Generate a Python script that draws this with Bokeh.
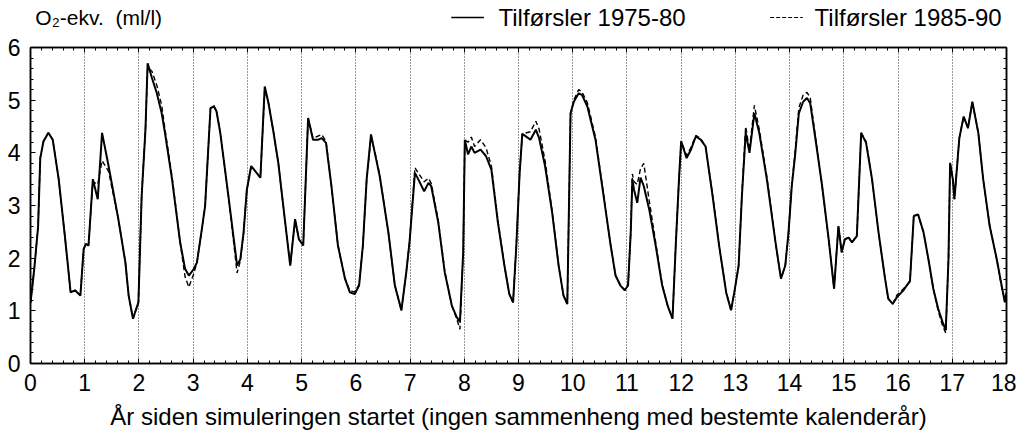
from bokeh.plotting import figure
from bokeh.models import FixedTicker, LinearAxis, Label
from bokeh.layouts import column
from bokeh.embed import file_html
from bokeh.resources import INLINE

# Years since the simulation started
t = [0.0, 0.07, 0.14, 0.18, 0.24, 0.33, 0.41, 0.52, 0.64, 0.74, 0.82, 0.92, 0.98,
     1.02, 1.07, 1.15, 1.24, 1.32, 1.44, 1.62, 1.75, 1.81, 1.89, 1.99,
     2.05, 2.12, 2.16, 2.24, 2.33, 2.42, 2.48, 2.61, 2.76, 2.85, 2.92,
     3.01, 3.07, 3.16, 3.22, 3.32, 3.38, 3.43, 3.5, 3.65, 3.81, 3.87, 3.93, 3.99,
     4.07, 4.24, 4.32, 4.39, 4.48, 4.57, 4.69, 4.79, 4.88, 4.95,
     5.03, 5.12, 5.21, 5.31, 5.37, 5.45, 5.55, 5.67, 5.8, 5.89, 5.98,
     6.06, 6.13, 6.2, 6.28, 6.35, 6.44, 6.6, 6.72, 6.84, 6.93, 6.99,
     7.09, 7.15, 7.26, 7.34, 7.39, 7.52, 7.64, 7.77, 7.86, 7.92, 7.98,
     8.01, 8.07, 8.13, 8.19, 8.3, 8.4, 8.5, 8.62, 8.74, 8.83, 8.9, 8.96,
     9.02, 9.07, 9.22, 9.32, 9.38, 9.49, 9.62, 9.74, 9.83, 9.9, 9.96,
     10.02, 10.11, 10.17, 10.27, 10.42, 10.57, 10.7, 10.79, 10.88, 10.96,
     11.02, 11.07, 11.1, 11.13, 11.19, 11.25, 11.31, 11.41, 11.53, 11.65, 11.75, 11.84, 11.9, 11.96,
     12.0, 12.1, 12.18, 12.27, 12.36, 12.45, 12.58, 12.7, 12.83, 12.92, 12.98,
     13.06, 13.12, 13.19, 13.26, 13.35, 13.44, 13.58, 13.74, 13.84, 13.92, 13.98,
     14.04, 14.1, 14.17, 14.25, 14.32, 14.38, 14.47, 14.6, 14.72, 14.82, 14.9, 14.96,
     15.02, 15.09, 15.15, 15.24, 15.32, 15.41, 15.52, 15.64, 15.76, 15.82, 15.9, 15.98,
     16.1, 16.22, 16.29, 16.37, 16.47, 16.56, 16.65, 16.74, 16.82, 16.88, 16.93, 16.96,
     17.01, 17.04, 17.13, 17.21, 17.29, 17.37, 17.48, 17.57, 17.69, 17.82, 17.91, 17.97, 18.0]

# O2-equivalents (ml/l), inputs 1975-80 (solid)
tilf_1975_80 = [1.15, 1.8, 2.6, 3.9, 4.22, 4.38, 4.25, 3.5, 2.36, 1.35, 1.39, 1.29, 2.17,
                2.27, 2.24, 3.5, 3.12, 4.38, 3.75, 2.74, 1.92, 1.29, 0.85, 1.16,
                3.18, 4.44, 5.7, 5.42, 5.13, 4.75, 4.38, 3.5, 2.3, 1.8, 1.67,
                1.79, 1.92, 2.55, 2.99, 4.85, 4.88, 4.79, 4.38, 3.18, 1.86, 1.98, 2.49, 3.3,
                3.75, 3.53, 5.26, 4.94, 4.4, 3.81, 2.74, 1.86, 2.74, 2.36,
                2.24, 4.66, 4.25, 4.25, 4.28, 4.19, 3.37, 2.24, 1.61, 1.35, 1.32,
                1.48, 2.24, 3.5, 4.35, 4.0, 3.56, 2.49, 1.48, 1.01, 1.73, 2.3,
                3.62, 3.5, 3.27, 3.43, 3.37, 2.68, 1.73, 1.1, 0.88, 0.79, 2.11,
                4.25, 3.97, 4.12, 4.0, 4.06, 3.94, 3.68, 2.68, 1.86, 1.32, 1.16, 2.24,
                3.6, 4.36, 4.25, 4.44, 4.28, 3.75, 2.87, 1.86, 1.29, 1.13, 4.75,
                4.97, 5.13, 5.1, 4.88, 4.25, 3.18, 2.24, 1.67, 1.48, 1.39,
                1.48, 2.49, 3.5, 3.3, 3.05, 3.53, 3.37, 2.93, 2.24, 1.48, 1.1, 0.85, 2.24, 3.5,
                4.22, 3.9, 4.06, 4.31, 4.25, 4.12, 3.18, 2.24, 1.35, 1.01, 1.35,
                1.86, 3.18, 4.38, 4.0, 4.75, 4.38, 3.5, 2.3, 1.61, 1.86, 2.49,
                3.37, 3.94, 4.75, 4.97, 5.04, 4.94, 4.31, 3.37, 2.36, 1.42, 2.61, 2.11,
                2.36, 2.39, 2.3, 2.42, 4.38, 4.19, 3.5, 2.49, 1.61, 1.23, 1.13, 1.26,
                1.39, 1.57, 2.8, 2.83, 2.49, 1.98, 1.42, 1.04, 0.79, 0.63, 1.98, 3.81,
                3.5, 3.12, 4.28, 4.69, 4.47, 4.97, 4.38, 3.5, 2.61, 1.98, 1.48, 1.16, 1.35]

# O2-equivalents (ml/l), inputs 1985-90 (dashed)
tilf_1985_90 = [1.15, 1.8, 2.6, 3.9, 4.22, 4.38, 4.25, 3.5, 2.36, 1.35, 1.39, 1.29, 2.17,
                2.27, 2.24, 3.45, 3.4, 3.85, 3.65, 2.74, 1.92, 1.29, 0.85, 1.16,
                3.18, 4.44, 5.62, 5.55, 5.28, 4.9, 4.45, 3.55, 2.3, 1.65, 1.45,
                1.7, 1.92, 2.55, 2.99, 4.85, 4.9, 4.8, 4.38, 3.18, 1.72, 1.95, 2.49, 3.3,
                3.75, 3.53, 5.2, 4.94, 4.4, 3.81, 2.74, 1.86, 2.74, 2.36,
                2.24, 4.66, 4.28, 4.32, 4.35, 4.22, 3.37, 2.24, 1.61, 1.38, 1.36,
                1.5, 2.24, 3.5, 4.3, 4.02, 3.58, 2.49, 1.48, 1.01, 1.73, 2.3,
                3.72, 3.62, 3.45, 3.52, 3.42, 2.72, 1.75, 1.1, 0.85, 0.65, 2.11,
                4.25, 4.2, 4.3, 4.12, 4.25, 4.1, 3.75, 2.72, 1.86, 1.32, 1.16, 2.24,
                3.6, 4.36, 4.4, 4.6, 4.45, 3.85, 2.9, 1.86, 1.29, 1.13, 4.75,
                5.0, 5.2, 5.16, 4.95, 4.3, 3.2, 2.24, 1.67, 1.48, 1.39,
                1.48, 2.49, 3.6, 3.45, 3.4, 3.7, 3.8, 3.1, 2.3, 1.5, 1.1, 0.85, 2.24, 3.5,
                4.22, 3.95, 4.1, 4.33, 4.27, 4.12, 3.2, 2.24, 1.35, 1.01, 1.35,
                1.86, 3.2, 4.5, 4.05, 4.9, 4.45, 3.55, 2.3, 1.61, 1.86, 2.49,
                3.4, 4.0, 4.85, 5.1, 5.15, 5.05, 4.35, 3.37, 2.36, 1.42, 2.61, 2.11,
                2.36, 2.39, 2.3, 2.42, 4.38, 4.22, 3.5, 2.49, 1.61, 1.23, 1.13, 1.3,
                1.42, 1.55, 2.8, 2.83, 2.49, 1.98, 1.42, 1.0, 0.72, 0.58, 1.98, 3.81,
                3.5, 3.12, 4.28, 4.69, 4.47, 4.97, 4.38, 3.5, 2.61, 1.98, 1.45, 1.2, 1.3]

x_ticks = list(range(0, 19))
y_ticks = list(range(0, 7))
x_minor = [i / 5 for i in range(0, 91)]
y_minor = [i / 5 for i in range(0, 31)]
year_lines = list(range(1, 18))

legend_labels = ["Tilførsler 1975-80", "Tilførsler 1985-90"]
y_title = "O₂-ekv.\u00a0 (ml/l)"
x_title = "År siden simuleringen startet (ingen sammenheng med bestemte kalenderår)"

FONT = "Liberation Sans"
W = 1016
HEAD_H = 33
MAIN_H = 406  # 14 top + 316 frame + 76 bottom

# ---------- header strip: y title + legend (pixel coordinates) ----------
h = figure(width=W, height=HEAD_H, x_range=(0, W), y_range=(0, HEAD_H), title=None,
           x_axis_location=None, y_axis_location=None,
           output_backend="svg", toolbar_location=None,
           min_border=0, min_border_left=0, min_border_right=0,
           min_border_top=0, min_border_bottom=0)
h.grid.visible = False
h.outline_line_color = None
h.background_fill_color = "white"
h.border_fill_color = "white"

mid = 16
h.add_layout(Label(x=5, y=mid, text=y_title, text_font=FONT, text_font_size="21px",
                   text_baseline="middle", text_align="left", text_color="black"))
h.line([438, 472], [mid, mid], line_color="black", line_width=1.5)
h.add_layout(Label(x=682, y=mid, text=legend_labels[0], text_font=FONT, text_font_size="24px",
                   text_baseline="middle", text_align="right", text_color="black"))
h.line([770, 804], [mid, mid], line_color="black", line_width=1.2, line_dash="4 2")
h.add_layout(Label(x=1011, y=mid, text=legend_labels[1], text_font=FONT, text_font_size="24px",
                   text_baseline="middle", text_align="right", text_color="black"))

# ---------- main plot ----------
p = figure(width=W, height=MAIN_H, x_range=(0, 18), y_range=(0, 6), title=None,
           output_backend="svg", toolbar_location=None,
           min_border_left=30, min_border_right=10, min_border_top=14, min_border_bottom=76)
p.background_fill_color = "white"
p.border_fill_color = "white"
p.outline_line_color = "black"
p.outline_line_width = 1.5

for ax in (p.xaxis[0], p.yaxis[0]):
    ax.axis_line_color = "black"
    ax.axis_line_width = 1.5
    ax.major_tick_in = 5
    ax.major_tick_out = 0
    ax.minor_tick_in = 3
    ax.minor_tick_out = 0
    ax.major_tick_line_color = "black"
    ax.minor_tick_line_color = "black"
    ax.major_label_text_font = FONT
    ax.major_label_text_font_size = "23px"
    ax.major_label_text_color = "black"

p.xaxis[0].ticker = FixedTicker(ticks=x_ticks, minor_ticks=x_minor)
p.yaxis[0].ticker = FixedTicker(ticks=y_ticks, minor_ticks=y_minor)
p.xaxis[0].major_label_standoff = 10
p.yaxis[0].major_label_standoff = 10
p.xaxis[0].axis_label = x_title
p.xaxis[0].axis_label_text_font = FONT
p.xaxis[0].axis_label_text_font_size = "24px"
p.xaxis[0].axis_label_text_font_style = "normal"
p.xaxis[0].axis_label_text_color = "black"
p.xaxis[0].axis_label_standoff = 9

# mirrored tick marks on top and right
top_ax = LinearAxis(ticker=FixedTicker(ticks=x_ticks, minor_ticks=x_minor),
                    major_label_overrides={k: "" for k in x_ticks})
right_ax = LinearAxis(ticker=FixedTicker(ticks=y_ticks, minor_ticks=y_minor),
                      major_label_overrides={k: "" for k in y_ticks})
for ax in (top_ax, right_ax):
    ax.axis_line_color = "black"
    ax.axis_line_width = 1.5
    ax.major_tick_in = 5
    ax.major_tick_out = 0
    ax.minor_tick_in = 3
    ax.minor_tick_out = 0
    ax.major_label_standoff = 0
    ax.major_label_text_font_size = "1px"
p.add_layout(top_ax, "above")
p.add_layout(right_ax, "right")

p.xgrid.ticker = FixedTicker(ticks=year_lines)
p.xgrid.grid_line_color = "black"
p.xgrid.grid_line_alpha = 0.8
p.xgrid.grid_line_dash = "1 2"
p.xgrid.grid_line_width = 1
p.ygrid.grid_line_color = None

p.line(t, tilf_1985_90, line_color="black", line_width=1.4, line_dash="5 3")
p.line(t, tilf_1975_80, line_color="black", line_width=2)

layout = column(h, p, spacing=0)
open("out.html", "w").write(file_html(layout, INLINE))
